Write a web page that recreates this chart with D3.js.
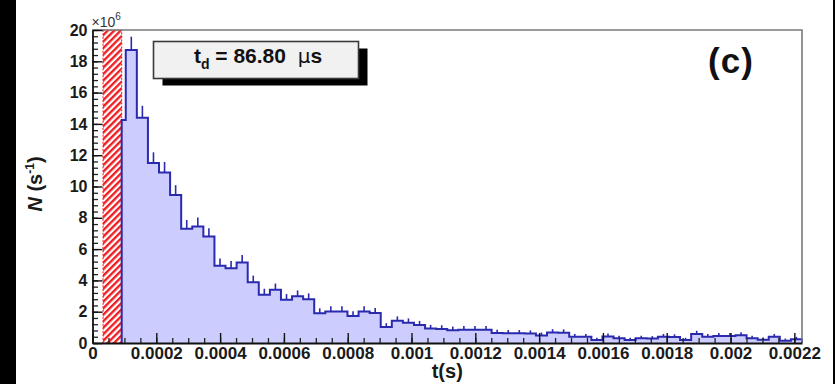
<!DOCTYPE html>
<html>
<head>
<meta charset="utf-8">
<script src="https://cdn.jsdelivr.net/npm/d3@7"></script>
<style>
  html, body { margin: 0; padding: 0; background: #fff; }
  svg { display: block; font-family: "Liberation Sans", Arial, Helvetica, sans-serif; }
</style>
</head>
<body>
<svg id="chart" width="835" height="384"></svg>
<script>
// Decay-time spectrum: rate per bin (units of 1e6 s^-1), 64 equal bins over [0, tMax]
const tMax = 0.002224;
const nBins = 64;
const rate = [
  0, 0, 14.25, 18.72, 14.4, 11.5, 10.9, 9.46, 7.3, 7.45,
  6.8, 4.93, 4.78, 5.14, 3.88, 3.08, 3.4, 2.76, 2.98, 2.8,
  1.9, 2.02, 2.02, 1.72, 2.02, 1.92, 1.02, 1.42, 1.3, 1.15,
  0.92, 0.9, 0.82, 0.85, 0.85, 0.85, 0.64, 0.62, 0.62, 0.6,
  0.48, 0.67, 0.66, 0.4, 0.4, 0.19, 0.42, 0.3, 0.19, 0.3,
  0.28, 0.4, 0.38, 0.19, 0.58, 0.4, 0.45, 0.45, 0.5, 0.3,
  0.2, 0.4, 0.15, 0.24
];
// Statistical weight per unit rate, used for Poisson error bars
const countsPerUnit = 30;

// Dead-time (veto) window shown hatched
const vetoWindow = [0.000033, 0.0000915];

const xTicks = [0, 0.0002, 0.0004, 0.0006, 0.0008, 0.001, 0.0012, 0.0014, 0.0016, 0.0018, 0.002, 0.0022];
const xTickLabels = ["0", "0.0002", "0.0004", "0.0006", "0.0008", "0.001", "0.0012", "0.0014", "0.0016", "0.0018", "0.002", "0.0022"];
const yTicks = [0, 2, 4, 6, 8, 10, 12, 14, 16, 18, 20];
const yMax = 20;

const tdValue = "86.80";
const panelTag = "(c)";

const svg = d3.select("#chart");
const frame = { left: 92.5, right: 802, top: 30, bottom: 343 };

const x = d3.scaleLinear().domain([0, tMax]).range([frame.left, frame.right]);
const y = d3.scaleLinear().domain([0, yMax]).range([frame.bottom, frame.top]);

// side bars of the page
svg.append("rect").attr("x", 0).attr("y", 0).attr("width", 16).attr("height", 384).attr("fill", "#000");
svg.append("rect").attr("x", 833).attr("y", 0).attr("width", 2).attr("height", 384).attr("fill", "#000");

// hatch pattern for the veto window
const defs = svg.append("defs");
const pat = defs.append("pattern")
  .attr("id", "veto-hatch")
  .attr("patternUnits", "userSpaceOnUse")
  .attr("width", 4.6).attr("height", 4.6)
  .attr("patternTransform", "rotate(45)");
pat.append("rect").attr("width", 4.6).attr("height", 4.6).attr("fill", "#fff");
pat.append("line").attr("x1", 1.2).attr("y1", 0).attr("x2", 1.2).attr("y2", 4.6)
  .attr("stroke", "#f0181c").attr("stroke-width", 2.3);

// histogram outline, starting at the end of the veto window
const binW = tMax / nBins;
const edges = d3.range(nBins + 1).map(i => i * binW);
const vetoEnd = vetoWindow[1];
const pts = [[vetoEnd, 0]];
rate.forEach((v, i) => {
  const x1 = edges[i + 1];
  if (x1 <= vetoEnd) return;
  const x0 = Math.max(edges[i], vetoEnd);
  pts.push([x0, v], [x1, v]);
});
pts.push([tMax, 0]);

const area = d3.area().x(d => x(d[0])).y0(y(0)).y1(d => y(d[1]));
const line = d3.line().x(d => x(d[0])).y(d => y(d[1]));

svg.append("path").datum(pts).attr("d", area).attr("fill", "#ccccff");

// veto window
svg.append("rect")
  .attr("x", x(vetoWindow[0])).attr("y", y(yMax))
  .attr("width", x(vetoWindow[1]) - x(vetoWindow[0]))
  .attr("height", y(0) - y(yMax))
  .attr("fill", "url(#veto-hatch)")
  .attr("stroke", "#f0181c").attr("stroke-width", 1).attr("stroke-dasharray", "2,1.5");

svg.append("path").datum(pts).attr("d", line)
  .attr("fill", "none").attr("stroke", "#2a2aae").attr("stroke-width", 2)
  .attr("stroke-linejoin", "miter");

// upper error bars at bin centres
const errData = rate.map((v, i) => ({ c: (edges[i] + edges[i + 1]) / 2, v, e: Math.sqrt(v / countsPerUnit) }))
  .filter(d => d.c > vetoEnd && d.v > 0);
svg.append("g").selectAll("line").data(errData).join("line")
  .attr("x1", d => x(d.c)).attr("x2", d => x(d.c))
  .attr("y1", d => y(d.v)).attr("y2", d => y(d.v + d.e) - 1)
  .attr("stroke", "#2a2aae").attr("stroke-width", 1.6);

// frame (top and right)
svg.append("path")
  .attr("d", `M${frame.left},${frame.top}H${frame.right}V${frame.bottom}`)
  .attr("fill", "none").attr("stroke", "#7a7a7a").attr("stroke-width", 1.6);

// y axis
const yMinor = d3.range(0, yMax + 0.001, 0.4);
svg.append("g").attr("transform", `translate(${frame.left},0)`)
  .call(d3.axisLeft(y).tickValues(yMinor).tickSize(-5.5).tickSizeOuter(0).tickFormat(""))
  .call(g => g.select(".domain").remove())
  .call(g => g.selectAll("line").attr("stroke", "#222").attr("stroke-width", 1.3));
const yAxis = svg.append("g").attr("transform", `translate(${frame.left},0)`)
  .call(d3.axisLeft(y).tickValues(yTicks).tickSize(-10).tickSizeOuter(0).tickPadding(5).tickFormat(d3.format("d")));
yAxis.select(".domain").attr("stroke", "#111").attr("stroke-width", 1.8);
yAxis.selectAll("line").attr("stroke", "#111").attr("stroke-width", 1.4);
yAxis.selectAll("text").attr("font-size", 16).attr("font-weight", "bold").attr("fill", "#1a1a1a")
  .attr("font-family", "Liberation Sans, Arial, sans-serif");

// x axis
const xMinor = d3.range(0, tMax, 0.00005);
svg.append("g").attr("transform", `translate(0,${frame.bottom})`)
  .call(d3.axisBottom(x).tickValues(xMinor).tickSize(-5).tickSizeOuter(0).tickFormat(""))
  .call(g => g.select(".domain").remove())
  .call(g => g.selectAll("line").attr("stroke", "#222").attr("stroke-width", 1.3));
const xAxis = svg.append("g").attr("transform", `translate(0,${frame.bottom})`)
  .call(d3.axisBottom(x).tickValues(xTicks).tickSize(-10).tickSizeOuter(0).tickPadding(4)
    .tickFormat((d, i) => xTickLabels[i]));
xAxis.select(".domain").attr("stroke", "#111").attr("stroke-width", 1.8);
xAxis.selectAll("line").attr("stroke", "#111").attr("stroke-width", 1.4);
xAxis.selectAll("text").attr("font-size", 17).attr("font-weight", "bold").attr("fill", "#1a1a1a")
  .attr("font-family", "Liberation Sans, Arial, sans-serif");

// exponent marker
const expo = svg.append("text").attr("x", frame.left - 1).attr("y", 27)
  .attr("font-size", 14).attr("fill", "#333");
expo.append("tspan").text("×10");
expo.append("tspan").attr("font-size", 10).attr("dy", -7).text("6");

// axis titles
svg.append("text").attr("x", (frame.left + frame.right) / 2).attr("y", 378)
  .attr("text-anchor", "middle").attr("font-size", 20).attr("font-weight", "bold")
  .attr("fill", "#1a1a1a").text("t(s)");

const yt = svg.append("text").attr("transform", "translate(42,184) rotate(-90)")
  .attr("text-anchor", "middle").attr("font-size", 20).attr("font-weight", "bold").attr("fill", "#1a1a1a");
yt.append("tspan").attr("font-style", "italic").text("N");
yt.append("tspan").text(" (s");
yt.append("tspan").attr("font-size", 12).attr("dy", -8).text("-1");
yt.append("tspan").attr("dy", 8).text(")");

// fit result box with drop shadow
const box = { x: 153.5, y: 41.5, w: 205, h: 37 };
svg.append("rect").attr("x", box.x + 9).attr("y", box.y + 7).attr("width", box.w).attr("height", box.h).attr("fill", "#000");
svg.append("rect").attr("x", box.x).attr("y", box.y).attr("width", box.w).attr("height", box.h)
  .attr("fill", "#f1f1f1").attr("stroke", "#3a3a3a").attr("stroke-width", 1.6);
const bt = svg.append("text").attr("x", box.x + box.w / 2 + 2).attr("y", 63)
  .attr("text-anchor", "middle").attr("font-size", 21).attr("font-weight", "bold")
  .attr("fill", "#111").style("white-space", "pre");
bt.append("tspan").text("t");
bt.append("tspan").attr("font-size", 14).attr("dy", 6).text("d");
bt.append("tspan").attr("dy", -6).text(` = ${tdValue}  `);
bt.append("tspan").attr("font-weight", "normal").attr("font-family", "DejaVu Sans, sans-serif").attr("font-size", 20).text("µ");
bt.append("tspan").text("s");

// panel tag
svg.append("text").attr("x", 731).attr("y", 73).attr("text-anchor", "middle")
  .attr("font-size", 35).attr("font-weight", "bold").attr("fill", "#111").attr("letter-spacing", 1)
  .text(panelTag);
</script>
</body>
</html>
